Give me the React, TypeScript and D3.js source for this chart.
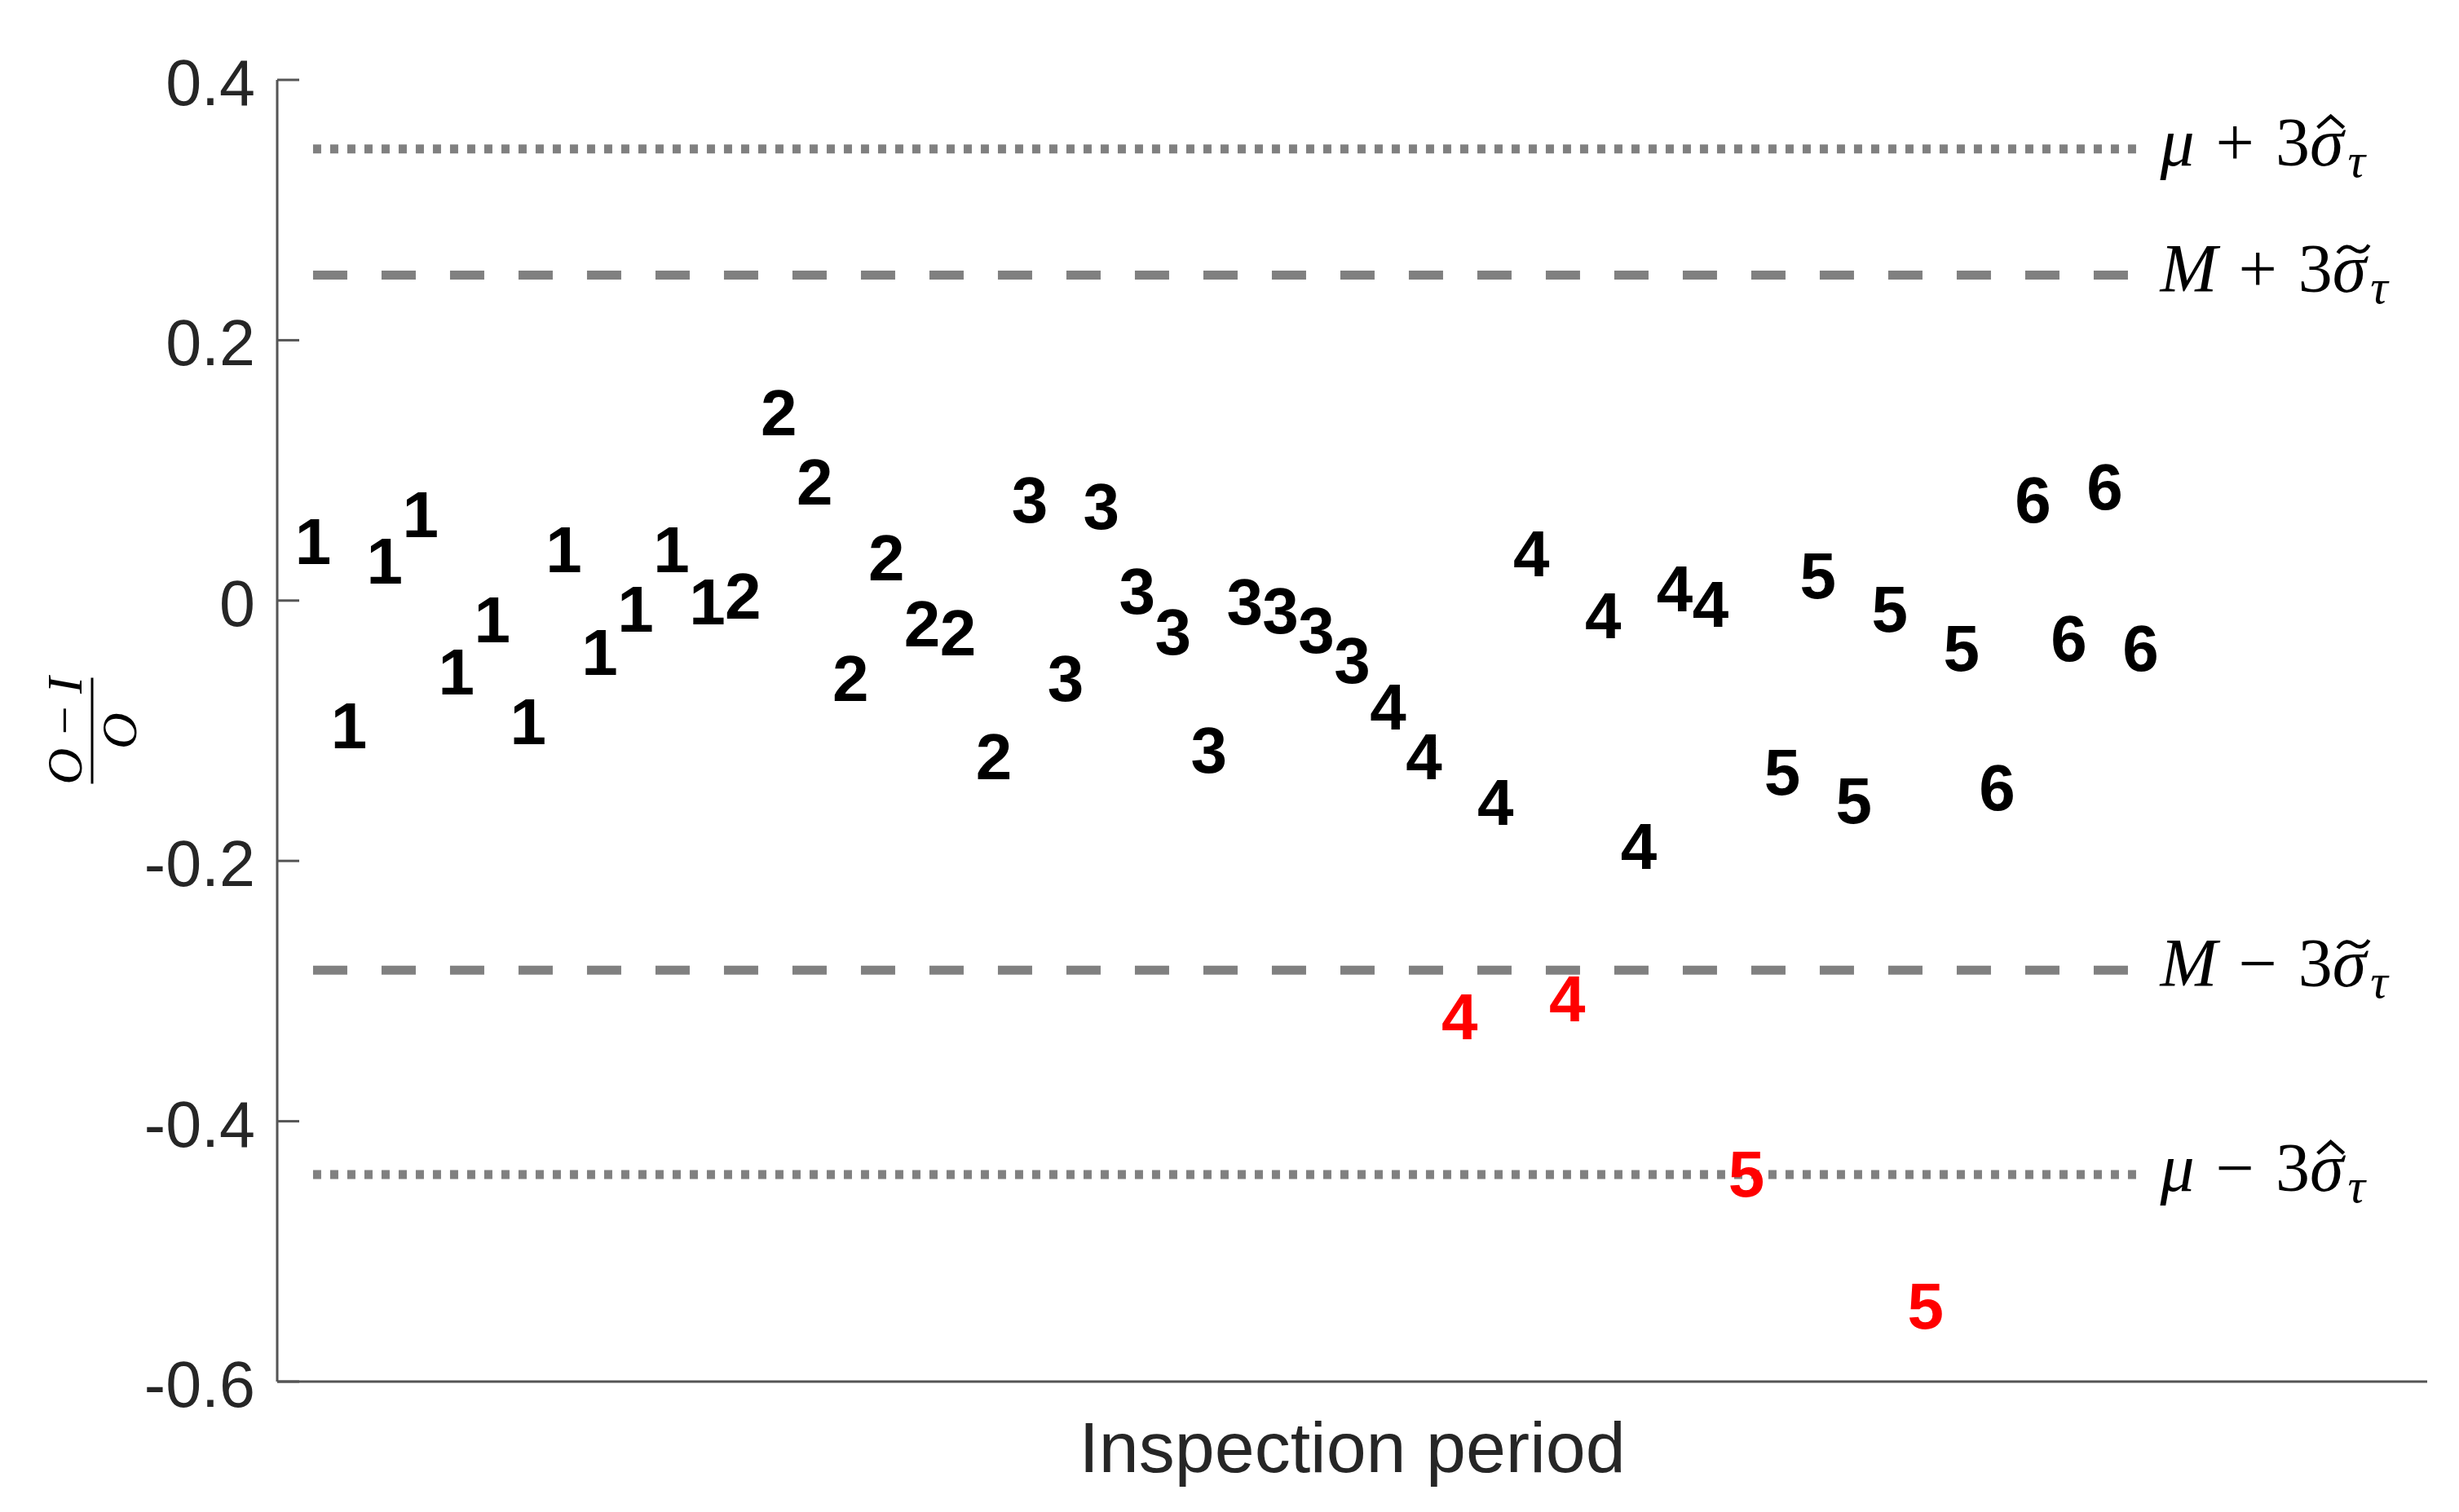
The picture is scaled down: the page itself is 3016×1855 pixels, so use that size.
import { useEffect, useRef, useState } from "react";
import * as d3 from "d3";

const width = 3016;
const height = 1855;

// inspection period of each observation (the label that is drawn)
const periods = [
  1, 1, 1, 1, 1, 1, 1, 1, 1, 1, 1, 1,
  2, 2, 2, 2, 2, 2, 2, 2,
  3, 3, 3, 3, 3, 3, 3, 3, 3, 3,
  4, 4, 4, 4, 4, 4, 4, 4, 4, 4,
  5, 5, 5, 5, 5, 5, 5,
  6, 6, 6, 6, 6,
];

// (O - I) / O for each observation
const ratios = [
  0.046, -0.095, 0.031, 0.067, -0.054, -0.014, -0.092, 0.04, -0.039, -0.006, 0.04, 0.0,
  0.004, 0.145, 0.092, -0.059, 0.034, -0.017, -0.024, -0.119,
  0.078, -0.059, 0.073, 0.008, -0.023, -0.114, 0.0, -0.007, -0.022, -0.045,
  -0.081, -0.119, -0.319, -0.154, 0.037, -0.305, -0.011, -0.188, 0.01, -0.002,
  -0.44, -0.131, 0.02, -0.153, -0.006, -0.541, -0.036,
  -0.143, 0.078, -0.028, 0.088, -0.036,
];

// control limits
const limitNames = ["muUpper", "mUpper", "mLower", "muLower"];
const limitValues = [0.347, 0.25, -0.284, -0.441];
const limitDashes = ["10 11", "42 42", "42 42", "10 11"];
const limitSigns = ["+", "+", "\u2212", "\u2212"];
const limitSymbols = ["\u03bc", "M", "M", "\u03bc"];
const limitAccents = ["hat", "tilde", "tilde", "hat"];

const yTicks = [0.4, 0.2, 0, -0.2, -0.4, -0.6];

const margin = { left: 340, right: 39, top: 98, bottom: 160 };

const x = d3.scaleLinear().domain([0, 60]).range([margin.left, width - margin.right]);
const y = d3.scaleLinear().domain([-0.6, 0.4]).range([height - margin.bottom, margin.top]);

const sans = "'Liberation Sans', Arial, Helvetica, sans-serif";
const serif = "'Liberation Serif', 'Times New Roman', serif";

const App = () => {
  const labelRefs = useRef<(SVGTextElement | null)[]>([]);
  const [sigmaBoxes, setSigmaBoxes] = useState<{ x: number; w: number }[]>([]);

  useEffect(() => {
    // find where each sigma sits so the accent can be put above it
    const boxes = labelRefs.current.map((el) => {
      if (!el) return { x: 0, w: 0 };
      const r = el.getExtentOfChar(3);
      return { x: r.x, w: r.width };
    });
    setSigmaBoxes(boxes);
  }, []);

  const lowerLimit = limitValues[2];
  const x0 = x.range()[0];
  const x1 = x.range()[1];
  const yBottom = y.range()[0];
  const lineStart = x(1);
  const lineEnd = x(ratios.length);
  const labelX = lineEnd + 24;

  return (
    <svg
      width={width}
      height={height}
      style={{ position: "absolute", left: 0, top: 0 }}
    >
      <rect width={width} height={height} fill="#fff" />

      {/* control limit lines */}
      {limitValues.map((v, i) => (
        <line
          key={limitNames[i]}
          x1={lineStart}
          x2={lineEnd}
          y1={y(v)}
          y2={y(v)}
          stroke="#808080"
          strokeWidth={11}
          strokeDasharray={limitDashes[i]}
        />
      ))}

      {/* limit labels */}
      {limitValues.map((v, i) => {
        const base = y(v) + 20;
        const box = sigmaBoxes[i];
        const cx = box ? box.x + box.w / 2 + 5 : 0;
        return (
          <g key={"lab" + i}>
            <text
              ref={(el) => {
                labelRefs.current[i] = el;
              }}
              x={labelX}
              y={base}
              fontFamily={serif}
              fontSize={84}
              fill="#000"
            >
              <tspan fontStyle="italic">{limitSymbols[i]}</tspan>
              <tspan dx={26}>{limitSigns[i]}</tspan>
              <tspan dx={26}>3</tspan>
              <tspan fontStyle="italic">{"\u03c3"}</tspan>
              <tspan fontStyle="italic" fontSize={60} dx={5} dy={14}>
                {"\u03c4"}
              </tspan>
            </text>
            {box && box.w > 0 &&
              (limitAccents[i] === "hat" ? (
                <path
                  d={`M${cx - 16},${base - 46} L${cx},${base - 60} L${cx + 16},${base - 46}`}
                  fill="none"
                  stroke="#000"
                  strokeWidth={4.5}
                />
              ) : (
                <path
                  d={`M${cx - 19},${base - 47} C${cx - 12},${base - 58} ${cx - 4},${base - 55} ${cx},${base - 52} C${cx + 4},${base - 49} ${cx + 12},${base - 45} ${cx + 19},${base - 57}`}
                  fill="none"
                  stroke="#000"
                  strokeWidth={4.5}
                />
              ))}
          </g>
        );
      })}

      {/* axes */}
      <line x1={x0} x2={x0} y1={y(0.4)} y2={yBottom} stroke="#555" strokeWidth={3} />
      <line x1={x0} x2={x1} y1={yBottom} y2={yBottom} stroke="#555" strokeWidth={3} />
      {yTicks.map((t) => (
        <g key={t}>
          <line x1={x0} x2={x0 + 27} y1={y(t)} y2={y(t)} stroke="#555" strokeWidth={3} />
          <text
            x={x0 - 27}
            y={y(t) + 31}
            textAnchor="end"
            fontFamily={sans}
            fontSize={79}
            fill="#262626"
          >
            {String(Math.round(t * 10) / 10)}
          </text>
        </g>
      ))}

      {/* observations */}
      {ratios.map((v, i) => (
        <text
          key={i}
          x={x(i + 1)}
          y={y(v) + 29}
          textAnchor="middle"
          fontFamily={sans}
          fontWeight="bold"
          fontSize={80}
          fill={v < lowerLimit ? "#ff0000" : "#000"}
        >
          {periods[i]}
        </text>
      ))}

      {/* x label */}
      <text
        x={(x0 + x1) / 2}
        y={1806}
        textAnchor="middle"
        fontFamily={sans}
        fontSize={88}
        fill="#262626"
      >
        Inspection period
      </text>

      {/* y label: (O - I) / O */}
      <g transform={`translate(113,${(y(0.4) + yBottom) / 2}) rotate(-90)`}>
        <text x={0} y={-13} textAnchor="middle" fontFamily={serif} fontSize={62} fontStyle="italic">
          {"O\u2009\u2212\u2009I"}
        </text>
        <line x1={-65} x2={65} y1={0} y2={0} stroke="#000" strokeWidth={3} />
        <text x={0} y={54} textAnchor="middle" fontFamily={serif} fontSize={62} fontStyle="italic">
          O
        </text>
      </g>
    </svg>
  );
};

export default App;
